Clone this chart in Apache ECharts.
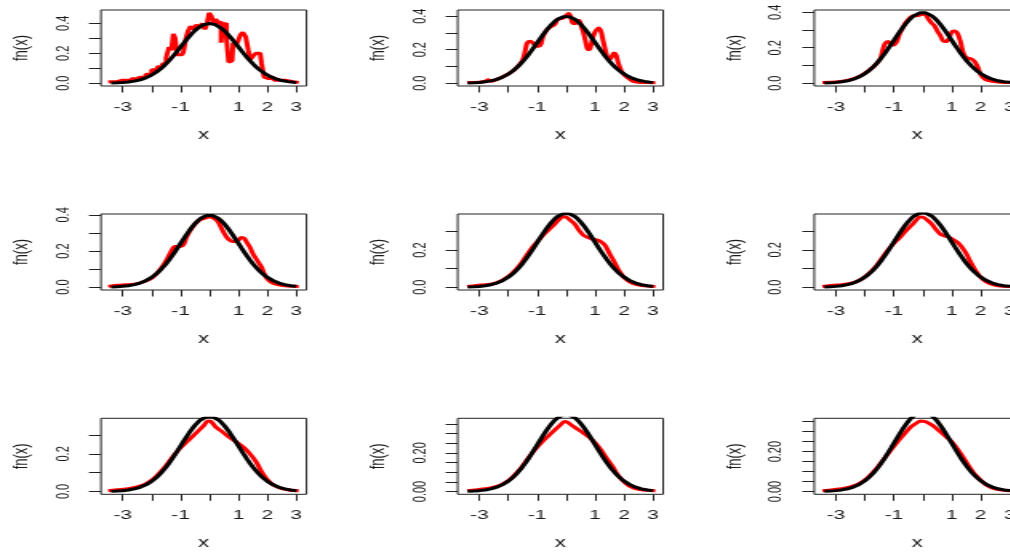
<!DOCTYPE html>
<html><head><meta charset="utf-8">
<script src="https://cdn.jsdelivr.net/npm/echarts@6/dist/echarts.min.js"></script>
<style>
html,body{margin:0;padding:0;overflow:hidden;background:#fff;width:1010px;height:552px;}
#chart{height:552px;transform-origin:0 0;}
</style></head><body><div id="chart"></div>
<script>
// ---- data ----
const xTicks = [-3, -2, -1, 0, 1, 2, 3];
const xLabels = [-3, -1, 1, 2, 3];
const yTicksA = [0, 0.1, 0.2, 0.3, 0.4];
const yLabelsA = [0, 0.2, 0.4];
const yTicksB = [0, 0.1, 0.2, 0.3];
const yLabelsB = [0, 0.2];
const yTicksC = [0, 0.05, 0.1, 0.15, 0.2, 0.25, 0.3, 0.35];
const yLabelsC = [0, 0.2];

const blackX = [-3.4,-3.3,-3.2,-3.1,-3.0,-2.9,-2.8,-2.7,-2.6,-2.5,-2.4,-2.3,-2.2,-2.1,-2.0,-1.9,-1.8,-1.7,-1.6,-1.5,-1.4,-1.3,-1.2,-1.1,-1.0,-0.9,-0.8,-0.7,-0.6,-0.5,-0.4,-0.3,-0.2,-0.1,0,0.1,0.2,0.3,0.4,0.5,0.6,0.7,0.8,0.9,1.0,1.1,1.2,1.3,1.4,1.5,1.6,1.7,1.8,1.9,2.0,2.1,2.2,2.3,2.4,2.5,2.6,2.7,2.8,2.9,3.0];
const blackY = [0.0012,0.0017,0.0024,0.0033,0.0044,0.0060,0.0079,0.0104,0.0136,0.0175,0.0224,0.0283,0.0355,0.0440,0.0540,0.0656,0.0790,0.0940,0.1109,0.1295,0.1497,0.1714,0.1942,0.2179,0.2420,0.2661,0.2897,0.3123,0.3332,0.3521,0.3683,0.3814,0.3910,0.3970,0.3989,0.3970,0.3910,0.3814,0.3683,0.3521,0.3332,0.3123,0.2897,0.2661,0.2420,0.2179,0.1942,0.1714,0.1497,0.1295,0.1109,0.0940,0.0790,0.0656,0.0540,0.0440,0.0355,0.0283,0.0224,0.0175,0.0136,0.0104,0.0079,0.0060,0.0044];

const red1X = [-3.5,-3.2,-3.1,-2.9,-2.8,-2.6,-2.45,-2.3,-2.1,-1.9,-1.7,-1.55,-1.45,-1.35,-1.28,-1.22,-1.15,-1.1,-0.95,-0.85,-0.78,-0.7,-0.6,-0.5,-0.4,-0.3,-0.2,-0.12,-0.05,0.02,0.1,0.18,0.25,0.32,0.38,0.42,0.48,0.55,0.62,0.7,0.78,0.85,0.95,1.02,1.1,1.2,1.3,1.38,1.45,1.55,1.65,1.75,1.85,1.92,2.05,2.15,2.3,2.5,2.7,3.08];
const red1Y = [0.01,0.01,0.02,0.02,0.01,0.03,0.04,0.04,0.06,0.09,0.11,0.13,0.17,0.24,0.22,0.33,0.30,0.19,0.19,0.21,0.30,0.35,0.38,0.36,0.39,0.37,0.40,0.36,0.40,0.47,0.45,0.40,0.43,0.40,0.41,0.27,0.39,0.40,0.30,0.14,0.15,0.27,0.25,0.28,0.32,0.34,0.31,0.22,0.16,0.18,0.20,0.20,0.13,0.04,0.03,0.04,0.02,0.02,0.01,0.005];

const red2X = [-3.42,-3.0,-2.8,-2.7,-2.6,-2.3,-2.0,-1.8,-1.6,-1.5,-1.42,-1.35,-1.25,-1.15,-1.05,-0.95,-0.88,-0.8,-0.7,-0.6,-0.5,-0.4,-0.3,-0.2,-0.1,0.0,0.08,0.15,0.22,0.3,0.38,0.45,0.52,0.6,0.68,0.75,0.82,0.9,0.98,1.05,1.12,1.2,1.28,1.35,1.42,1.5,1.58,1.65,1.72,1.8,1.9,2.0,2.1,2.3,2.5,2.8,3.08];
const red2Y = [0.004,0.006,0.01,0.02,0.012,0.03,0.055,0.08,0.115,0.14,0.19,0.24,0.25,0.24,0.22,0.22,0.23,0.28,0.31,0.33,0.34,0.35,0.38,0.385,0.39,0.405,0.416,0.40,0.36,0.355,0.37,0.375,0.34,0.30,0.24,0.20,0.205,0.26,0.30,0.32,0.33,0.31,0.25,0.20,0.155,0.14,0.16,0.18,0.17,0.12,0.075,0.05,0.035,0.012,0.006,0.004,0.003];

const red3X = [-3.47,-3.0,-2.7,-2.4,-2.1,-1.8,-1.6,-1.46,-1.38,-1.3,-1.2,-1.1,-1.0,-0.9,-0.8,-0.7,-0.6,-0.5,-0.4,-0.3,-0.2,-0.1,0.0,0.1,0.2,0.3,0.4,0.5,0.6,0.7,0.8,0.9,1.0,1.1,1.2,1.3,1.4,1.5,1.6,1.7,1.8,1.9,2.0,2.15,2.4,2.7,3.08];
const red3Y = [0.004,0.006,0.012,0.024,0.045,0.08,0.11,0.14,0.19,0.225,0.235,0.22,0.215,0.235,0.28,0.31,0.34,0.36,0.375,0.38,0.38,0.385,0.39,0.385,0.36,0.34,0.325,0.295,0.27,0.24,0.235,0.25,0.29,0.295,0.28,0.235,0.17,0.145,0.14,0.135,0.12,0.09,0.047,0.022,0.01,0.005,0.003];

const red4X = [-3.5,-3.2,-2.9,-2.6,-2.3,-2.0,-1.8,-1.6,-1.45,-1.3,-1.2,-1.1,-1.0,-0.9,-0.8,-0.7,-0.6,-0.5,-0.4,-0.3,-0.2,-0.1,0.0,0.1,0.2,0.3,0.4,0.5,0.6,0.7,0.8,0.9,1.0,1.1,1.2,1.3,1.4,1.5,1.6,1.7,1.8,1.9,2.0,2.15,2.4,2.7,3.08];
const red4Y = [0.004,0.01,0.013,0.016,0.028,0.05,0.08,0.12,0.16,0.205,0.225,0.225,0.225,0.235,0.275,0.305,0.33,0.35,0.365,0.375,0.38,0.385,0.39,0.385,0.375,0.36,0.33,0.30,0.275,0.26,0.253,0.253,0.26,0.275,0.27,0.245,0.22,0.185,0.16,0.135,0.11,0.07,0.045,0.025,0.012,0.006,0.004];

const red5X = [-3.42,-3.1,-2.8,-2.5,-2.2,-1.9,-1.6,-1.4,-1.2,-1.0,-0.8,-0.6,-0.4,-0.25,-0.1,0.0,0.15,0.3,0.45,0.6,0.75,0.9,1.05,1.2,1.35,1.5,1.65,1.8,1.95,2.1,2.3,2.6,3.08];
const red5Y = [0.004,0.01,0.013,0.02,0.038,0.07,0.12,0.165,0.21,0.245,0.28,0.31,0.34,0.365,0.38,0.378,0.36,0.34,0.305,0.28,0.268,0.26,0.255,0.245,0.225,0.18,0.14,0.095,0.062,0.038,0.02,0.009,0.004];

const red6X = [-3.47,-3.1,-2.8,-2.5,-2.2,-1.9,-1.6,-1.4,-1.2,-1.0,-0.8,-0.6,-0.4,-0.25,-0.1,0.0,0.15,0.3,0.45,0.6,0.75,0.9,1.05,1.2,1.35,1.5,1.65,1.8,1.95,2.1,2.3,2.6,3.08];
const red6Y = [0.004,0.01,0.013,0.02,0.036,0.068,0.115,0.158,0.2,0.235,0.265,0.3,0.33,0.355,0.376,0.375,0.36,0.34,0.31,0.285,0.275,0.268,0.255,0.24,0.215,0.18,0.135,0.095,0.062,0.038,0.02,0.008,0.004];

const red7X = [-3.5,-3.1,-2.8,-2.5,-2.2,-1.9,-1.6,-1.4,-1.2,-1.0,-0.8,-0.6,-0.4,-0.2,-0.05,0.05,0.2,0.4,0.6,0.8,1.0,1.2,1.4,1.6,1.8,2.0,2.2,2.5,2.8,3.08];
const red7Y = [0.004,0.01,0.015,0.024,0.04,0.072,0.12,0.158,0.198,0.232,0.262,0.29,0.32,0.35,0.375,0.372,0.345,0.322,0.298,0.276,0.255,0.232,0.2,0.16,0.105,0.062,0.035,0.015,0.007,0.004];

const red8X = [-3.42,-3.1,-2.8,-2.5,-2.2,-1.9,-1.6,-1.4,-1.2,-1.0,-0.8,-0.6,-0.4,-0.2,-0.06,0.05,0.2,0.4,0.6,0.8,1.0,1.2,1.4,1.6,1.8,2.0,2.2,2.5,2.8,3.08];
const red8Y = [0.004,0.009,0.014,0.022,0.038,0.068,0.115,0.155,0.195,0.23,0.262,0.29,0.318,0.345,0.362,0.358,0.342,0.322,0.302,0.28,0.252,0.215,0.172,0.13,0.082,0.05,0.027,0.011,0.006,0.004];

const red9X = [-3.47,-3.1,-2.8,-2.5,-2.2,-1.9,-1.6,-1.4,-1.2,-1.0,-0.8,-0.6,-0.4,-0.2,-0.08,0.05,0.2,0.4,0.6,0.8,1.0,1.2,1.4,1.6,1.8,2.0,2.2,2.5,2.8,3.08];
const red9Y = [0.004,0.009,0.014,0.023,0.04,0.07,0.115,0.152,0.19,0.227,0.262,0.295,0.325,0.345,0.354,0.352,0.343,0.325,0.3,0.275,0.25,0.213,0.17,0.125,0.085,0.057,0.032,0.013,0.006,0.004];

const yMins = [-0.019, -0.017, -0.016, -0.016, -0.015, -0.015, -0.015, -0.0145, -0.014];
const yMaxs = [0.489, 0.437, 0.413, 0.405, 0.395, 0.392, 0.389, 0.379, 0.367];

// ---- layout ----
const K = 1.6;
const boxLefts = [101, 457.7, 814.3];
const boxTops = [10, 214, 418.3];
const boxW = 205.5, boxH = 76;
const FONT = '"Liberation Sans", Arial, Helvetica, sans-serif';
const TXT = '#1a1a1a';

const redX = [red1X, red2X, red3X, red4X, red5X, red6X, red7X, red8X, red9X];
const redY = [red1Y, red2Y, red3Y, red4Y, red5Y, red6Y, red7Y, red8Y, red9Y];
const yTickSets = [yTicksA, yTicksA, yTicksA, yTicksA, yTicksB, yTicksB, yTicksB, yTicksC, yTicksC];
const yLabelSets = [yLabelsA, yLabelsA, yLabelsA, yLabelsA, yLabelsB, yLabelsB, yLabelsB, yLabelsC, yLabelsC];
const yDecimals = [1, 1, 1, 1, 1, 1, 1, 2, 2];

const zip = (xs, ys) => xs.map((x, i) => [x, ys[i]]);

const el = document.getElementById('chart');
el.style.width = (1010 / K) + 'px';
el.style.transform = 'scaleX(' + K + ')';
const chart = echarts.init(el, null, { renderer: 'canvas' });

const grids = [], xAxes = [], yAxes = [], series = [];
for (let i = 0; i < 9; i++) {
  const r = Math.floor(i / 3), c = i % 3;
  grids.push({
    left: boxLefts[c] / K, top: boxTops[r], width: boxW / K, height: boxH,
    show: true, borderColor: '#222', borderWidth: 1, backgroundColor: 'transparent',
    containLabel: false, outerBoundsMode: 'none'
  });
  xAxes.push({
    type: 'value', gridIndex: i, position: 'bottom', min: -3.75, max: 3.35,
    axisLine: { show: false, onZero: false }, splitLine: { show: false },
    axisTick: { show: true, length: 6.5, customValues: xTicks, lineStyle: { color: '#222', width: 1 } },
    axisLabel: { customValues: xLabels, margin: 15, fontSize: 13, color: TXT, fontFamily: FONT },
    name: 'x', nameLocation: 'middle', nameGap: 42,
    nameTextStyle: { fontSize: 14, color: TXT, fontFamily: FONT }
  });
  const d = yDecimals[i];
  yAxes.push({
    type: 'value', gridIndex: i, position: 'left', min: yMins[i], max: yMaxs[i],
    axisLine: { show: false, onZero: false }, splitLine: { show: false },
    axisTick: { show: true, length: 7.5, customValues: yTickSets[i], lineStyle: { color: '#222', width: 1 } },
    axisLabel: { customValues: yLabelSets[i], rotate: 90, margin: 18, fontSize: 11, color: TXT, fontFamily: FONT,
      formatter: v => Number(v).toFixed(d) },
    name: 'fn(x)', nameLocation: 'middle', nameGap: 43,
    nameTextStyle: { fontSize: 13, color: TXT, fontFamily: FONT }
  });
  series.push({
    type: 'line', xAxisIndex: i, yAxisIndex: i, data: zip(redX[i], redY[i]),
    symbol: 'none', showSymbol: false, silent: true, clip: true,
    step: i === 0 ? 'middle' : false, smooth: i === 0 ? false : 0.3,
    lineStyle: { color: '#ff0000', width: 3 }, z: 2
  });
  series.push({
    type: 'line', xAxisIndex: i, yAxisIndex: i, data: zip(blackX, blackY),
    symbol: 'none', showSymbol: false, silent: true, clip: true, smooth: false,
    lineStyle: { color: '#000000', width: 3 }, z: 3
  });
}

chart.setOption({
  animation: false,
  backgroundColor: '#ffffff',
  grid: grids, xAxis: xAxes, yAxis: yAxes, series: series
});
</script>
</body></html>
